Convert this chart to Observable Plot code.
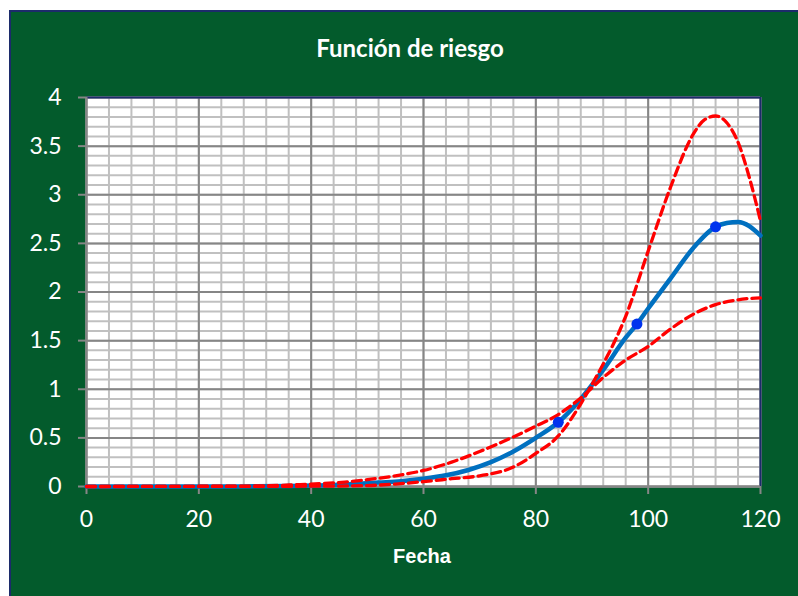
<!DOCTYPE html>
<html>
<head>
<meta charset="utf-8">
<script src="https://cdn.jsdelivr.net/npm/d3@7"></script>
<script src="https://cdn.jsdelivr.net/npm/@observablehq/plot@0.6"></script>
<style>
  html, body { margin: 0; padding: 0; background: #ffffff; }
  #wrap { position: relative; width: 798px; height: 596px; overflow: hidden; }
  #bg { position: absolute; left: 9px; top: 10px; width: 800px; height: 600px; background: #035b2c;
        border-left: 2px solid #1c2b6b; border-top: 2px solid #1c2b6b; }
  #title { position: absolute; left: 10px; width: 800px; top: 33px; text-align: center;
           font: bold 24px Lato, "Open Sans", sans-serif; color: #ffffff; }
  #xlabel { position: absolute; left: 322px; width: 200px; top: 545px; text-align: center;
            font: bold 20px "Liberation Sans", Arial, sans-serif; color: #ffffff; }
  #chart { position: absolute; left: 0; top: 0; }
</style>
</head>
<body>
<div id="wrap">
  <div id="bg"></div>
  <div id="chart"></div>
  <div id="title">Función de riesgo</div>
  <div id="xlabel">Fecha</div>
</div>
<script>
// Estimated hazard (blue)
const fechaRiesgo = [0, 10, 20, 30, 36, 40, 44, 48, 52, 56, 60, 64, 68, 72, 76, 80, 84, 88, 92, 96, 98, 100, 104, 108, 112, 114, 116, 120];
const riesgo      = [0, 0, 0, 0.002, 0.005, 0.01, 0.015, 0.025, 0.04, 0.055, 0.08, 0.115, 0.17, 0.25, 0.36, 0.50, 0.66, 0.90, 1.20, 1.53, 1.67, 1.83, 2.14, 2.45, 2.67, 2.71, 2.72, 2.58];

// Marked observations (blue dots)
const fechaPuntos = [84, 98, 112];
const riesgoPuntos = [0.66, 1.67, 2.67];

// Confidence band, flatter red dashed line
const fechaBandaA = [0, 30, 38, 42, 46, 50, 55, 60, 65, 70, 76, 80, 84, 88, 92, 96, 100, 104, 108, 112, 116, 120];
const bandaA      = [0, 0.005, 0.02, 0.03, 0.045, 0.07, 0.11, 0.165, 0.25, 0.36, 0.51, 0.62, 0.74, 0.91, 1.12, 1.30, 1.44, 1.62, 1.77, 1.87, 1.92, 1.94];

// Confidence band, steeper red dashed line
const fechaBandaB = [0, 40, 50, 55, 60, 65, 70, 76, 80, 84, 88, 90, 92, 96, 100, 104, 108, 110, 112, 114, 116, 118, 120];
const bandaB      = [0, 0.003, 0.01, 0.025, 0.05, 0.08, 0.11, 0.20, 0.34, 0.52, 0.85, 1.05, 1.26, 1.75, 2.42, 3.08, 3.62, 3.77, 3.81, 3.74, 3.54, 3.18, 2.73];

// Axis ticks
const xTicks = [0, 20, 40, 60, 80, 100, 120];
const yTicks = [0, 0.5, 1, 1.5, 2, 2.5, 3, 3.5, 4];
const xMinor = d3.range(0, 121, 4);
const yMinor = d3.range(0, 41, 1).map(d => d / 10);

const toRows = (xs, ys) => xs.map((x, i) => ({x, y: ys[i]}));
const lineBlue = toRows(fechaRiesgo, riesgo);
const lineA = toRows(fechaBandaA, bandaA);
const lineB = toRows(fechaBandaB, bandaB);
const pts = toRows(fechaPuntos, riesgoPuntos);

const plot = Plot.plot({
  width: 798,
  height: 596,
  marginLeft: 86,
  marginRight: 38,
  marginTop: 97,
  marginBottom: 110,
  style: { background: "transparent", fontFamily: "Lato, 'Open Sans', sans-serif" },
  x: { domain: [0, 120] },
  y: { domain: [0, 4] },
  marks: [
    Plot.frame({ fill: "#ffffff", stroke: "none" }),
    Plot.ruleX(xMinor, { stroke: "#c0c0c0", strokeWidth: 2 }),
    Plot.ruleY(yMinor, { stroke: "#c0c0c0", strokeWidth: 2 }),
    Plot.ruleX(xTicks, { stroke: "#868686", strokeWidth: 2 }),
    Plot.ruleY(yTicks, { stroke: "#868686", strokeWidth: 2 }),
    Plot.ruleY([4], { stroke: "#1c2b6b", strokeWidth: 2 }),
    Plot.ruleX([120], { stroke: "#1c2b6b", strokeWidth: 2 }),
    Plot.ruleX([0], { stroke: "#868686", strokeWidth: 2 }),
    Plot.ruleY([0], { stroke: "#868686", strokeWidth: 2 }),
    Plot.axisY({ ticks: yTicks, tickSize: 8, tickPadding: 17, stroke: "#868686", strokeWidth: 2,
                 fill: "#ffffff", fontSize: 23, label: null, tickFormat: d => String(d) }),
    Plot.axisX({ ticks: xTicks, tickSize: 8, tickPadding: 16, stroke: "#868686", strokeWidth: 2,
                 fill: "#ffffff", fontSize: 23, label: null, tickFormat: d => String(d) }),
    Plot.line(lineBlue, { x: "x", y: "y", stroke: "#0070c0", strokeWidth: 4.5, curve: "monotone-x" }),
    Plot.line(lineA, { x: "x", y: "y", stroke: "#ff0000", strokeWidth: 3.3, strokeDasharray: "9,5", curve: "monotone-x" }),
    Plot.line(lineB, { x: "x", y: "y", stroke: "#ff0000", strokeWidth: 3.3, strokeDasharray: "9,5", curve: "monotone-x" }),
    Plot.dot(pts, { x: "x", y: "y", r: 5.5, fill: "#0033ee", stroke: "none" })
  ]
});
document.getElementById("chart").appendChild(plot);
</script>
</body>
</html>
